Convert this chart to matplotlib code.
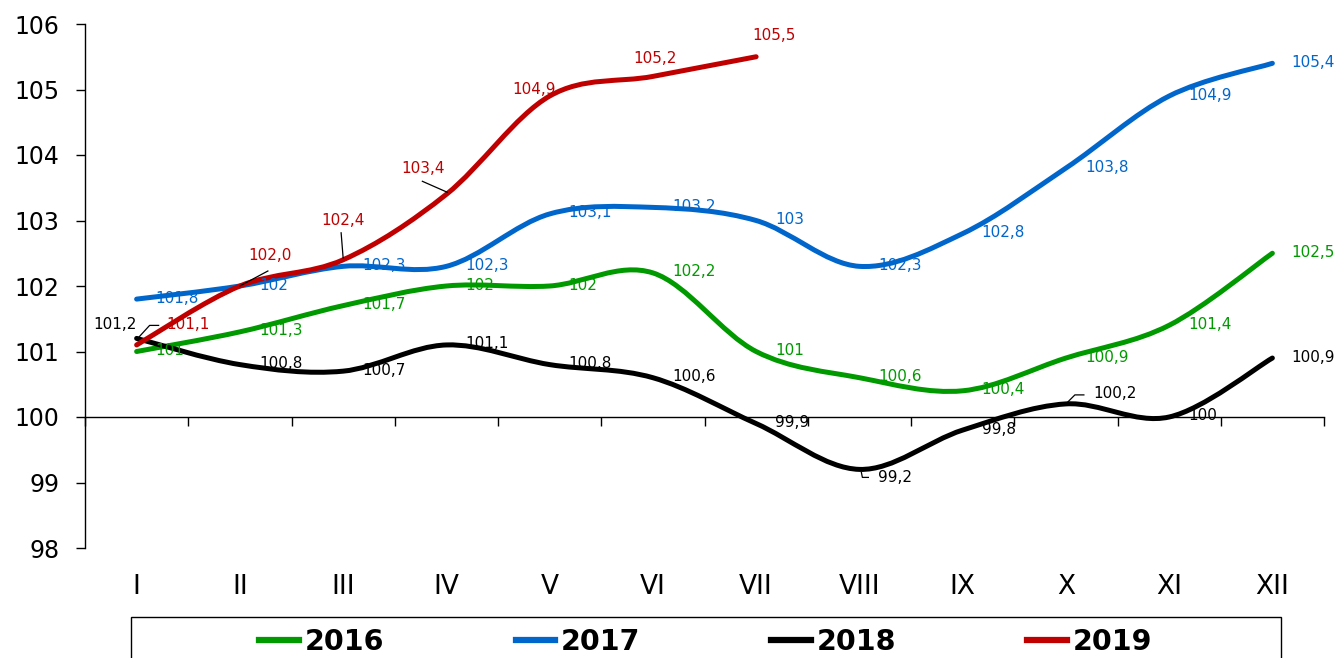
import matplotlib
matplotlib.use('Agg')
import matplotlib.pyplot as plt
from matplotlib.path import Path
from matplotlib.patches import PathPatch, Rectangle
from matplotlib.lines import Line2D
from matplotlib.transforms import IdentityTransform
import numpy as np

plt.rcParams['font.family'] = ['DejaVu Sans']

# ---------------- data ----------------
months = ['I', 'II', 'III', 'IV', 'V', 'VI', 'VII', 'VIII', 'IX', 'X', 'XI', 'XII']
y2016 = [101, 101.3, 101.7, 102, 102, 102.2, 101, 100.6, 100.4, 100.9, 101.4, 102.5]
y2017 = [101.8, 102, 102.3, 102.3, 103.1, 103.2, 103, 102.3, 102.8, 103.8, 104.9, 105.4]
y2018 = [101.2, 100.8, 100.7, 101.1, 100.8, 100.6, 99.9, 99.2, 99.8, 100.2, 100, 100.9]
y2019 = [101.1, 102.0, 102.4, 103.4, 104.9, 105.2, 105.5]
years = ['2016', '2017', '2018', '2019']
yticks = [98, 99, 100, 101, 102, 103, 104, 105, 106]

series = [y2016, y2017, y2018, y2019]
colors = ['#009900', '#0066CC', '#000000', '#C00000']
fixed_one_decimal = [False, False, False, True]

# label offsets in pixels (dx, dy, ha, leader vertices) ; default: right of point
default_lab = (19, 1, 'left', None)
custom = {
    (2, 0): (0, 14, 'right', [(2, 1), (13, 13), (22, 13)]),
    (2, 7): (19, -8, 'left', [(2, -3), (3, -8), (9, -8)]),
    (2, 9): (27, 10, 'left', [(2, 2), (9, 9), (18, 9)]),
    (3, 0): (30, 20, 'left', None),
    (3, 1): (8, 31, 'left', [(0, 0), (28, 15)]),
    (3, 2): (-22, 39, 'left', [(0, 2), (-2, 27)]),
    (3, 3): (-45, 26, 'left', [(1, 2), (-24, 13)]),
    (3, 4): (-37, 7, 'left', None),
    (3, 5): (-20, 18, 'left', None),
    (3, 6): (-4, 21, 'left', None),
}


def smooth_path(ys):
    n = len(ys)
    pts = np.column_stack([np.arange(n, dtype=float), np.asarray(ys, float)])
    verts = [pts[0]]
    codes = [Path.MOVETO]
    for i in range(n - 1):
        p0 = pts[i - 1] if i > 0 else pts[i]
        p1 = pts[i]
        p2 = pts[i + 1]
        p3 = pts[i + 2] if i + 2 < n else pts[i + 1]
        c1 = p1 + (p2 - p0) / 6.0
        c2 = p2 - (p3 - p1) / 6.0
        verts += [c1, c2, p2]
        codes += [Path.CURVE4] * 3
    return Path(verts, codes)


def fmt(v, one_dec):
    s = f"{v:.1f}" if one_dec else f"{v:g}"
    return s.replace('.', ',')


fig = plt.figure(figsize=(13.38, 6.58), dpi=100)
ax = fig.add_axes([85 / 1338, 1 - 548 / 658, (1324 - 85) / 1338, (548 - 24) / 658])
ax.set_xlim(-0.5, 11.5)
ax.set_ylim(98, 106)

# spines
ax.spines['right'].set_visible(False)
ax.spines['bottom'].set_visible(False)
ax.spines['top'].set_position(('data', 100))
ax.spines['top'].set_linewidth(1.0)
ax.spines['left'].set_linewidth(1.0)

ax.set_xticks(range(12))
ax.set_xticklabels(months, fontsize=19)
ax.set_xticks(np.arange(-0.5, 12, 1), minor=True)
ax.tick_params(axis='x', which='major', bottom=False, top=False, labelbottom=True, pad=15)
ax.tick_params(axis='x', which='minor', bottom=False, top=True, direction='in', length=6.5, width=1.0)

ax.set_yticks(yticks)
ax.set_yticklabels([str(t) for t in yticks], fontsize=17)
ax.tick_params(axis='y', which='major', direction='out', length=6.5, width=1.0, pad=12)

# lines
for k, (ys, c) in enumerate(zip(series, colors)):
    patch = PathPatch(smooth_path(ys), facecolor='none', edgecolor=c, lw=3.6,
                      capstyle='round', joinstyle='round', zorder=3 + k)
    ax.add_patch(patch)

fig.canvas.draw()

# labels
for k, (ys, c) in enumerate(zip(series, colors)):
    for i, v in enumerate(ys):
        dx, dy, ha, leader = custom.get((k, i), default_lab)
        ax.annotate(fmt(v, fixed_one_decimal[k]), xy=(i, v), xytext=(dx, dy),
                    textcoords='offset pixels', ha=ha, va='center',
                    fontsize=11, color=c, zorder=10)
        if leader:
            px, py = ax.transData.transform((i, v))
            lx = [px + a for a, b in leader]
            ly = [py + b for a, b in leader]
            fig.add_artist(Line2D(lx, ly, color='black', lw=0.9,
                                  transform=IdentityTransform(), zorder=11))

# legend
fig.add_artist(Rectangle((131 / 1338, -0.1), 1150 / 1338, 0.1 + (1 - 617 / 658),
                         transform=fig.transFigure, facecolor='white',
                         edgecolor='black', lw=1.0, clip_on=False))
handles = [Line2D([], [], color=c, lw=4.5) for c in colors]
fig.legend(handles, years, loc='center', bbox_to_anchor=(706 / 1338, 1 - 642 / 658),
           ncol=4, frameon=False, handlelength=1.4, handletextpad=0.2,
           columnspacing=4.6, prop={'weight': 'bold', 'size': 20.5})

fig.savefig('out.png', dpi=100)
